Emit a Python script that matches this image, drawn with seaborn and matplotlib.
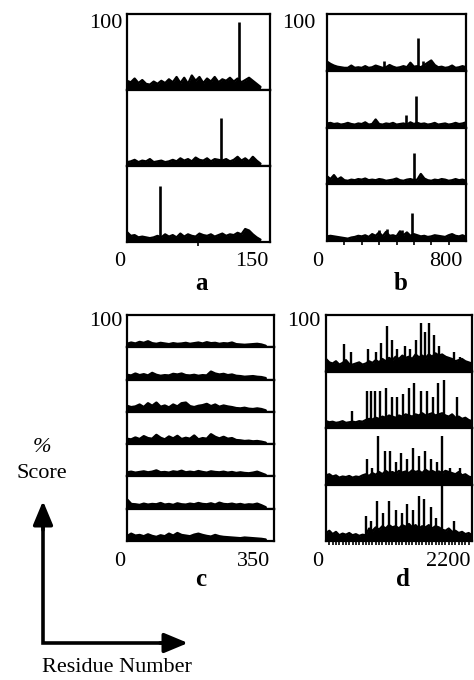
import numpy as np
import matplotlib
matplotlib.use("Agg")
import matplotlib.pyplot as plt
import seaborn as sns

# ---------------- data ----------------
A_X = np.arange(0, 141, 4)
A1 = [12,10,15,9,13,8,7,11,8,12,9,14,10,17,9,16,8,19,12,17,9,15,11,17,10,14,12,16,11,15,10,13,16,12,8,4]
A2 = [5,6,8,5,7,6,9,5,6,7,5,6,8,6,10,7,9,6,11,8,7,10,6,9,8,7,9,6,8,12,7,10,6,12,7,3]
A3 = [13,8,9,6,7,6,5,6,8,6,10,7,9,6,11,7,10,8,7,11,9,8,10,7,9,11,8,10,9,12,10,17,15,10,6,3]
A_SPIKE_X = [[118], [99], [35]]
A_SPIKE_H = [[89], [63], [74]]

B_X = np.arange(0, 801, 20)
B1 = [16,12,9,7,6,5,5,9,5,6,5,8,5,6,9,7,5,6,10,7,5,6,8,6,14,7,8,6,10,14,18,10,6,7,5,6,9,5,6,8,6]
B2 = [7,8,6,7,5,6,8,6,5,7,6,9,5,6,14,6,5,7,6,8,5,6,7,5,9,6,8,6,7,5,6,8,5,6,7,5,6,8,6,7,9]
B3 = [14,9,16,8,12,7,6,8,7,9,8,10,7,8,7,9,8,6,7,8,10,7,6,8,9,7,8,18,10,7,6,8,7,9,8,6,7,9,7,8,6]
B4 = [8,9,8,7,6,5,4,6,7,9,8,10,7,12,9,15,8,16,9,10,8,17,10,15,9,12,10,8,9,7,8,10,9,8,7,10,12,9,8,10,7]
B_SPIKE_X = [[330, 526, 555], [455, 513], [503], [300, 345, 430, 492]]
B_SPIKE_H = [[17, 57, 18], [22, 56], [55], [20, 22, 20, 49]]

C_X = np.arange(0, 331, 10)
C1 = [10,14,11,16,13,18,12,10,13,11,9,12,10,11,13,10,12,14,11,15,12,13,10,12,11,14,9,8,7,8,9,10,8,4]
C2 = [14,12,18,13,16,12,20,14,11,13,12,17,15,18,13,12,14,11,13,12,24,18,15,17,13,15,11,10,8,9,10,8,7,4]
C3 = [18,14,16,22,14,26,18,28,15,19,13,22,16,26,28,17,14,18,20,24,17,22,15,19,16,14,11,10,12,9,8,10,8,4]
C4 = [16,14,20,15,24,18,16,28,19,14,23,17,25,15,19,16,26,14,18,16,30,22,17,22,16,18,12,11,9,10,8,9,7,4]
C5 = [12,14,11,13,15,12,14,18,12,13,11,15,13,17,12,14,12,16,13,11,15,13,12,14,11,13,10,12,10,9,11,14,9,4]
C6 = [28,14,13,11,15,12,14,13,17,12,14,11,16,13,12,15,13,17,14,13,16,12,18,14,13,15,12,14,11,13,12,15,10,4]
C7 = [14,22,16,18,14,20,15,12,17,14,22,16,24,18,16,14,19,22,18,15,13,18,14,12,11,10,9,8,10,9,8,7,6,4]

D_X = np.arange(0, 2201, 50)
D1 = [22,16,14,18,12,15,20,13,12,14,16,12,14,18,15,20,16,22,18,24,20,26,22,28,24,26,22,30,25,28,24,30,26,32,28,30,26,24,22,18,20,22,18,16,14]
D2 = [12,10,11,9,10,12,9,10,11,10,12,11,14,16,15,18,16,20,18,22,20,18,22,20,24,22,20,24,22,26,22,24,26,22,24,26,22,20,24,18,20,16,18,14,12]
D3 = [16,18,14,16,12,14,13,15,12,14,13,16,18,15,20,17,22,18,24,20,22,19,24,21,23,20,25,22,24,20,26,22,24,21,23,20,24,22,20,18,22,16,18,14,12]
D4 = [14,18,12,16,10,13,11,14,10,12,9,11,10,22,18,24,20,26,22,28,24,26,22,28,25,30,24,28,22,26,24,28,22,26,24,20,18,22,16,18,14,16,12,14,10]
D_SPIKE_X = [
    [275,375,635,750,825,925,1000,1075,1185,1265,1350,1425,1485,1550,1625,1700,1775,1925,2025],
    [385,615,675,735,815,905,1000,1075,1165,1250,1325,1425,1515,1605,1695,1785,1975],
    [615,700,790,885,965,1050,1135,1225,1315,1400,1485,1585,1675,1755,1875,2025],
    [600,675,775,865,950,1050,1150,1225,1315,1400,1475,1575,1665,1745,1925],
]
D_SPIKE_H = [
    [48,35,40,35,50,80,55,40,45,40,55,85,70,85,65,45,30,35,25],
    [30,65,65,65,65,70,55,55,60,70,80,65,65,55,80,85,55],
    [45,30,85,60,60,40,55,45,65,50,60,45,40,85,30,30],
    [45,35,70,50,70,55,50,65,55,80,75,60,40,100,35],
]

# ---------------- style ----------------
sns.set_theme(style="white")
plt.rcParams["font.family"] = ["Liberation Serif", "DejaVu Serif"]

W, H = 474, 680
fig = plt.figure(figsize=(W / 100, H / 100), dpi=100)


def add_row(left, right, top, bottom):
    return fig.add_axes([left / W, 1 - bottom / H, (right - left) / W, (bottom - top) / H])


def panel(left, right, top, bottom, xmax, xs, rows, spx, sph, ticks, spike_lw, line_lw):
    n = len(rows)
    edges = np.linspace(top, bottom, n + 1)
    for i in range(n):
        ax = add_row(left, right, edges[i], edges[i + 1])
        y = rows[i]
        sns.lineplot(x=xs, y=y, ax=ax, color="black", linewidth=line_lw)
        ax.fill_between(xs, 0, y, color="black", linewidth=0)
        if spx is not None:
            ax.vlines(spx[i], 0, sph[i], color="black", linewidth=spike_lw)
        ax.set_xlim(0, xmax)
        ax.set_ylim(0, 100)
        ax.set_xlabel("")
        ax.set_ylabel("")
        ax.set_yticks([])
        for s in ax.spines.values():
            s.set_visible(True)
            s.set_color("black")
            s.set_linewidth(1.6)
        if i == n - 1 and ticks is not None:
            ax.set_xticks(ticks)
            ax.tick_params(axis="x", direction="out", length=3, width=1.2,
                           color="black", bottom=True, labelbottom=False)
        else:
            ax.set_xticks([])


panel(127, 270, 14, 242, 150, A_X, [A1, A2, A3], A_SPIKE_X, A_SPIKE_H, [75], 1.9, 1.7)
panel(327, 466, 14, 241, 800, B_X, [B1, B2, B3, B4], B_SPIKE_X, B_SPIKE_H,
      [100, 200, 300, 400, 500, 600, 700], 1.9, 1.7)
panel(127, 274, 315, 541, 350, C_X, [C1, C2, C3, C4, C5, C6, C7], None, None, None, 1.5, 2.0)
panel(326, 472, 315, 541, 2200, D_X, [D1, D2, D3, D4], D_SPIKE_X, D_SPIKE_H,
      list(range(50, 2200, 50)), 1.7, 1.7)

# ---------------- labels ----------------
def ftext(x, y, s, **kw):
    fig.text(x / W, 1 - y / H, s, ha="center", va="center", color="black", **kw)

FS = 16
ftext(106, 23, "100", fontsize=FS)
ftext(299, 23, "100", fontsize=FS)
ftext(106, 322, "100", fontsize=FS)
ftext(304, 322, "100", fontsize=FS)

ftext(120, 262, "0", fontsize=FS)
ftext(252, 262, "150", fontsize=FS)
ftext(201, 283, "a", fontsize=18, fontweight="bold")

ftext(318, 262, "0", fontsize=FS)
ftext(446, 262, "800", fontsize=FS)
ftext(401, 283, "b", fontsize=18, fontweight="bold")

ftext(120, 561, "0", fontsize=FS)
ftext(254, 561, "350", fontsize=FS)
ftext(201, 579, "c", fontsize=18, fontweight="bold")

ftext(318, 561, "0", fontsize=FS)
ftext(448, 561, "2200", fontsize=FS)
ftext(403, 579, "d", fontsize=18, fontweight="bold")

ftext(42, 448, "%", fontsize=FS, fontstyle="italic")
ftext(42, 474, "Score", fontsize=FS)
ftext(117, 668, "Residue Number", fontsize=FS)

# ---------------- arrows ----------------
ov = fig.add_axes([0, 0, 1, 1])
ov.set_xlim(0, W)
ov.set_ylim(H, 0)
ov.axis("off")
ov.patch.set_alpha(0)
ov.plot([43, 43, 172], [508, 643, 643], color="black", linewidth=2.6,
        solid_joinstyle="miter", solid_capstyle="butt")
ov.annotate("", xy=(43, 501), xytext=(43, 530),
            arrowprops=dict(arrowstyle="-|>,head_length=1.2,head_width=0.5",
                            color="black", lw=2.6, shrinkA=0, shrinkB=0))
ov.annotate("", xy=(188, 643), xytext=(160, 643),
            arrowprops=dict(arrowstyle="-|>,head_length=1.2,head_width=0.5",
                            color="black", lw=2.6, shrinkA=0, shrinkB=0))

fig.savefig("out.png", dpi=100, facecolor="white")
